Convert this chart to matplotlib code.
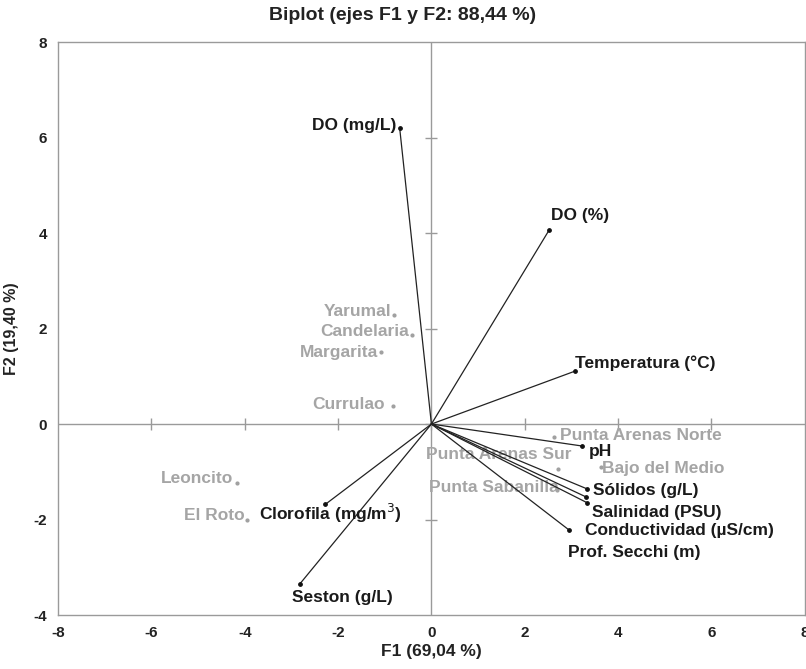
import matplotlib
matplotlib.use("Agg")
import matplotlib.pyplot as plt
import numpy as np

plt.rcParams['font.family'] = ['Liberation Sans', 'DejaVu Sans']
plt.rcParams['axes.unicode_minus'] = False

# Variables (vectors)
var_names = ["DO (mg/L)", "DO (%)", "Temperatura (°C)", "pH", "Sólidos (g/L)",
             "Salinidad (PSU)", "Prof. Secchi (m)", "Conductividad (µS/cm)",
             "Clorofila (mg/m$^3$)", "Seston (g/L)"]
var_f1 = [-0.68, 2.52, 3.08, 3.23, 3.34, 3.32, 3.34, 2.95, -2.27, -2.82]
var_f2 = [6.20, 4.06, 1.11, -0.46, -1.36, -1.53, -1.65, -2.22, -1.68, -3.35]

# Observations (sites)
obs_names = ["Yarumal", "Candelaria", "Margarita", "Currulao", "Leoncito", "El Roto",
             "Punta Arenas Norte", "Punta Arenas Sur", "Bajo del Medio", "Punta Sabanilla"]
obs_f1 = [-0.81, -0.41, -1.07, -0.83, -4.17, -3.96, 2.63, 2.72, 3.64, 2.70]
obs_f2 = [2.28, 1.86, 1.51, 0.38, -1.24, -2.01, -0.27, -0.94, -0.90, -1.38]

ticks = [-8, -6, -4, -2, 0, 2, 4, 6, 8]
yticks = [-4, -2, 0, 2, 4, 6, 8]

# label offsets in pixels (dx, dy, ha)
var_off = [(-3, 3, 'right'), (2, 15, 'left'), (0, 8, 'left'), (7, -5, 'left'),
           (6, -2, 'left'), (6, -15, 'left'), (-19, -50, 'left'), (16, 0, 'left'),
           (5, -9, 'center'), (-8, -14, 'left')]
obs_off = [(-2, 4, 'right'), (-3, 4, 'right'), (-3, -1, 'right'), (-8, 1, 'right'),
           (-4, 5, 'right'), (-2, 5, 'right'), (6, 1, 'left'), (13, 14, 'right'),
           (1, -1, 'left'), (1, 2, 'right')]

fig = plt.figure(figsize=(8.06, 6.69), dpi=100)
ax = fig.add_axes([0.072, 0.0807, 0.9265, 0.8563])
ax.set_xlim(-8, 8)
ax.set_ylim(-4, 8)

gray = '#9a9a9a'
for s in ax.spines.values():
    s.set_color(gray)
    s.set_linewidth(1.0)

ax.axhline(0, color=gray, lw=1.0, zorder=1)
ax.axvline(0, color=gray, lw=1.0, zorder=1)
ax.plot([t for t in ticks if abs(t) < 8], [0] * 7, linestyle='none', marker='|',
        color=gray, markersize=9, mew=1.0, zorder=1)
ax.plot([0] * 5, [t for t in yticks if -4 < t < 8], linestyle='none', marker='_',
        color=gray, markersize=9, mew=1.0, zorder=1)

ax.set_xticks(ticks)
ax.set_yticks(yticks)
ax.tick_params(length=0, pad=8, labelsize=11, colors='#222222')
for lab in ax.get_xticklabels() + ax.get_yticklabels():
    lab.set_fontweight('bold')

# vectors
for x, y in zip(var_f1, var_f2):
    ax.plot([0, x], [0, y], color='#222222', lw=0.9, zorder=3)
ax.scatter(var_f1, var_f2, s=6, color='#111111', zorder=4)
for name, x, y, (dx, dy, ha) in zip(var_names, var_f1, var_f2, var_off):
    ax.annotate(name, (x, y), xytext=(dx, dy), textcoords='offset pixels',
                ha=ha, va='center', fontsize=12.5, fontweight='bold', color='#1a1a1a', zorder=5)

# observations
ax.scatter(obs_f1, obs_f2, s=4, color='#a0a0a0', zorder=2)
for name, x, y, (dx, dy, ha) in zip(obs_names, obs_f1, obs_f2, obs_off):
    ax.annotate(name, (x, y), xytext=(dx, dy), textcoords='offset pixels',
                ha=ha, va='center', fontsize=12.5, fontweight='bold', color='#a5a5a5', zorder=2)

fig.text(0.5, 0.977, "Biplot (ejes F1 y F2: 88,44 %)", fontsize=14, fontweight='bold',
         color='#222222', ha='center', va='center')
ax.set_xlabel("F1 (69,04 %)", fontsize=12.5, fontweight='bold', color='#222222', labelpad=3)
ax.set_ylabel("F2 (19,40 %)", fontsize=11.5, fontweight='bold', color='#222222', labelpad=10)

fig.savefig("out.png", dpi=100)
